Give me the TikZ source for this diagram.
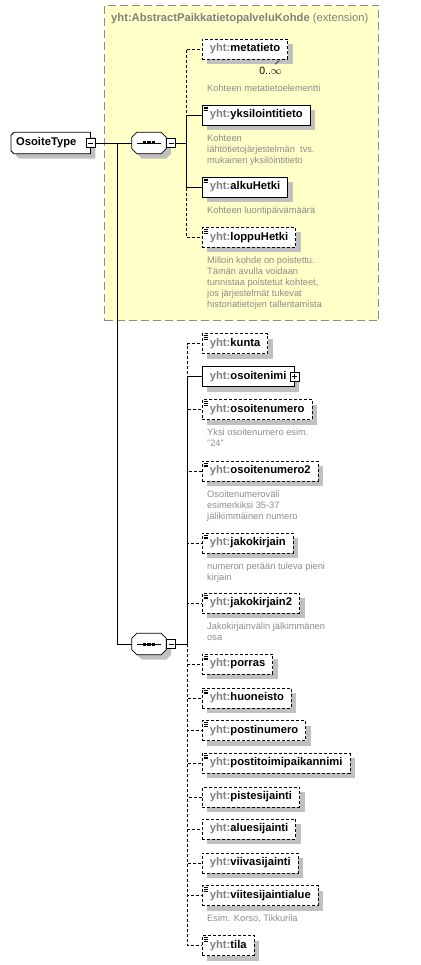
\documentclass[tikz,border=0pt]{standalone}
\usepackage{fontspec}
\setmainfont{Liberation Sans}
\usepackage{xcolor}
\usepackage{tikz}
\usetikzlibrary{shadows, positioning, backgrounds}
\definecolor{extfill}{RGB}{255,255,200}
\definecolor{extdash}{RGB}{140,140,140}
\definecolor{nsgray}{RGB}{128,128,128}
\definecolor{descgray}{RGB}{140,140,140}
\definecolor{shadowgray}{RGB}{192,192,192}
\newcommand{\yht}[1]{{\color{nsgray}yht:}#1}

\begin{document}
\begin{tikzpicture}[
    x=1pt, y=-1pt,
    boxshadow/.style={drop shadow={shadow xshift=5pt, shadow yshift=-5pt, fill=shadowgray, opacity=1}},
    elem/.style={rectangle, draw, line width=0.8pt, fill=white, anchor=west, minimum height=20pt, inner xsep=7.5pt, inner ysep=0pt, font=\bfseries\fontsize{11.2}{13}\selectfont, boxshadow},
    opt/.style={elem, dash pattern=on 3pt off 2pt},
    annot/.style={path picture={\foreach \k in {2,3.8,5.6} \draw[solid, line width=0.6pt] ([xshift=1.2pt,yshift=-\k pt]path picture bounding box.north west) -- ++(4.5pt,0pt);}},
    pmbox/.style={rectangle, draw, solid, line width=0.6pt, fill=white, minimum size=9pt, inner sep=0pt},
    collapse/.style={pmbox, path picture={\draw[line width=0.6pt] ([xshift=2pt]path picture bounding box.west) -- ([xshift=-2pt]path picture bounding box.east);}},
    expand/.style={pmbox, path picture={\draw[line width=0.6pt] ([xshift=2pt]path picture bounding box.west) -- ([xshift=-2pt]path picture bounding box.east) ([yshift=2pt]path picture bounding box.south) -- ([yshift=-2pt]path picture bounding box.north);}},
    seqbox/.style={rectangle, minimum width=34pt, minimum height=21pt, inner sep=0pt},
    typebox/.style={rectangle, anchor=west, minimum height=21pt, text width=69pt, align=left, inner xsep=5pt, inner ysep=0pt, font=\bfseries\fontsize{11.2}{13}\selectfont},
    outline/.style={line width=0.8pt, fill=white, boxshadow},
    desc/.style={anchor=north west, inner sep=0pt, align=left, text=descgray, font=\fontsize{9.3}{11}\selectfont},
    link/.style={line width=0.8pt},
    optlink/.style={link, dash pattern=on 3pt off 2pt},
    extbox/.style={rectangle, draw=extdash, fill=extfill, line width=1pt, dash pattern=on 8pt off 4pt, anchor=north west, minimum width=274pt, minimum height=315pt}
]
\useasboundingbox (0,0) rectangle (420,965);

\node[extbox] (ext) at (104,5) {};
\node[anchor=west, inner sep=0pt, text=nsgray, font=\fontsize{11.2}{13}\selectfont] (exttitle) at (111,19) {\textbf{yht:AbstractPaikkatietopalveluKohde} (extension)};

\node[typebox] (osoite) at (11,143) {OsoiteType};
\begin{scope}[on background layer]
\draw[outline] ([xshift=3pt]osoite.north west) -- (osoite.north east) -- (osoite.south east) -- ([xshift=3pt]osoite.south west) -- ([yshift=3pt]osoite.south west) -- ([yshift=-3pt]osoite.north west) -- cycle;
\end{scope}
\node[collapse] (osoitepm) at (osoite.east) {};

\node[seqbox] (seqA) at (149,143) {};
\node[seqbox] (seqB) at (149,644) {};
\foreach \cmp in {seqA, seqB} {
  \draw[outline] ([xshift=5pt]\cmp.north west) -- ([xshift=-5pt]\cmp.north east) -- ([yshift=-5pt]\cmp.north east) -- ([yshift=5pt]\cmp.south east) -- ([xshift=-5pt]\cmp.south east) -- ([xshift=5pt]\cmp.south west) -- ([yshift=5pt]\cmp.south west) -- ([yshift=-5pt]\cmp.north west) -- cycle;
  \draw[link] ([xshift=-12pt]\cmp.center) -- ([xshift=12pt]\cmp.center);
  \foreach \dx in {-4.5,0,4.5} \fill ([xshift=\dx pt]\cmp.center) +(-1.6,-1.5) rectangle +(1.6,1.5);
}
\node[collapse, right=0pt of seqA] (seqApm) {};
\node[collapse, right=0pt of seqB] (seqBpm) {};
\coordinate (fork) at (117,143);
\coordinate (busA) at (186,143);
\coordinate (busB) at (187,644);

\node[opt] (metatieto) at (202,49) {\yht{metatieto}};
\node[elem, annot] (yksilointitieto) at (202,115) {\yht{yksilointitieto}};
\node[elem, annot] (alkuHetki) at (202,187) {\yht{alkuHetki}};
\node[opt, annot] (loppuHetki) at (202,237.5) {\yht{loppuHetki}};

\node[opt, annot] (kunta) at (202,343.5) {\yht{kunta}};
\node[elem] (osoitenimi) at (202,376.5) {\yht{osoitenimi}\hspace{4pt}};
\node[expand] (osoitenimipm) at (osoitenimi.east) {};
\node[opt, annot] (osoitenumero) at (202,409.5) {\yht{osoitenumero}};
\node[opt, annot] (osoitenumero2) at (202,471) {\yht{osoitenumero2}};
\node[opt, annot] (jakokirjain) at (202,543) {\yht{jakokirjain}};
\node[opt, annot] (jakokirjain2) at (202,603) {\yht{jakokirjain2}};
\node[opt, annot] (porras) at (202,664) {\yht{porras}};
\node[opt, annot] (huoneisto) at (202,698) {\yht{huoneisto}};
\node[opt, annot] (postinumero) at (202,730.5) {\yht{postinumero}};
\node[opt, annot] (postitoimipaikannimi) at (202,763) {\yht{postitoimipaikannimi}};
\node[opt] (pistesijainti) at (202,797) {\yht{pistesijainti}};
\node[opt] (aluesijainti) at (202,829) {\yht{aluesijainti}};
\node[opt] (viivasijainti) at (202,863) {\yht{viivasijainti}};
\node[opt, annot] (viitesijaintialue) at (202,895.5) {\yht{viitesijaintialue}};
\node[opt, annot] (tila) at (202,945.5) {\yht{tila}};

\node[inner sep=0pt, anchor=north east, font=\fontsize{10.5}{12}\selectfont, below left=8pt and 6pt of metatieto.south east] (metaocc) {0..$\infty$};
\draw[line width=0.6pt] ([xshift=-13pt,yshift=-5pt]metatieto.south east) -- ([xshift=-9pt,yshift=-1pt]metatieto.south east);
\node[desc, below right=25pt and 5pt of metatieto.south west] (metadesc) {Kohteen metatietoelementti};
\node[desc, below right=9pt and 5pt of yksilointitieto.south west] (yksidesc) {Kohteen\\lähtötietojärjestelmän\ \ tvs.\\mukainen yksilöintitieto};
\node[desc, below right=9pt and 5pt of alkuHetki.south west] (alkudesc) {Kohteen luontipäivämäärä};
\node[desc, below right=9pt and 5pt of loppuHetki.south west] (loppudesc) {Milloin kohde on poistettu.\\Tämän avulla voidaan\\tunnistaa poistetut kohteet,\\jos järjestelmät tukevat\\historiatietojen tallentamista};
\node[desc, below right=9pt and 5pt of osoitenumero.south west] (numdesc) {Yksi osoitenumero esim.\\"24"};
\node[desc, below right=9pt and 5pt of osoitenumero2.south west] (num2desc) {Osoitenumeroväli\\esimerkiksi 35-37\\jälikimmäinen numero};
\node[desc, below right=9pt and 5pt of jakokirjain.south west] (jakodesc) {numeron perään tuleva pieni\\kirjain};
\node[desc, below right=9pt and 5pt of jakokirjain2.south west] (jako2desc) {Jakokirjainvälin jälkimmänen\\osa};
\node[desc, below right=9pt and 5pt of viitesijaintialue.south west] (viitedesc) {Esim. Korso, Tikkurila};

\draw[link] (osoitepm.east) -- (seqA.west);
\draw[link] (fork) |- (seqB.west);
\draw[link] (seqApm.east) -- (busA);
\draw[link] (seqBpm.east) -- (busB);
\foreach \n in {metatieto, loppuHetki} \draw[optlink] (busA) |- (\n.west);
\foreach \n in {yksilointitieto, alkuHetki} \draw[link] (busA) |- (\n.west);
\foreach \n in {kunta, osoitenumero, osoitenumero2, jakokirjain, jakokirjain2, porras, huoneisto, postinumero, postitoimipaikannimi, pistesijainti, aluesijainti, viivasijainti, viitesijaintialue, tila} \draw[optlink] (busB) |- (\n.west);
\draw[link] (busB) |- (osoitenimi.west);
\end{tikzpicture}
\end{document}
